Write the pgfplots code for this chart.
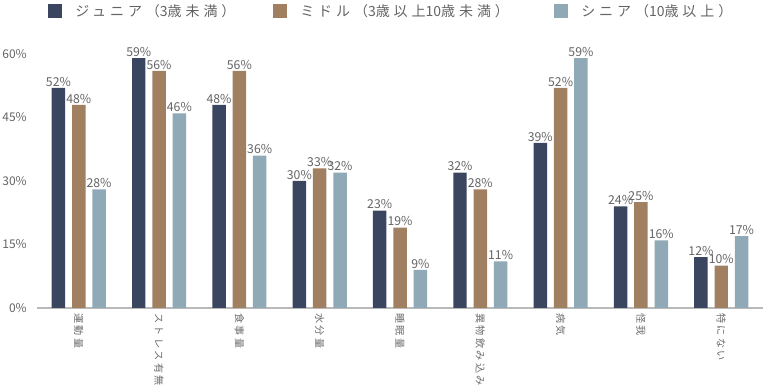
\documentclass[border=0pt]{standalone}
\usepackage{fontspec}
\setmainfont{Noto Sans CJK JP}
\newfontfamily\plainfont{Noto Sans CJK JP}
\newfontfamily\legfont[LetterSpace=28]{Noto Sans CJK JP}
\newfontfamily\catfont[LetterSpace=22]{Noto Sans CJK JP}
\newcommand{\n}[1]{{\plainfont #1}}
\usepackage{pgfplots}
\usepackage{pgfplotstable}
\pgfplotsset{compat=1.18}
\definecolor{cjun}{RGB}{58,70,96}
\definecolor{cmid}{RGB}{160,128,96}
\definecolor{csen}{RGB}{143,169,182}
\definecolor{txt}{RGB}{100,100,100}
\pgfplotstableread{
x jun mid sen
0 52 48 28
1 59 56 46
2 48 56 36
3 30 33 32
4 23 19 9
5 32 28 11
6 39 52 59
7 24 25 16
8 12 10 17
}\datatable
\begin{document}
\begin{tikzpicture}
\begin{axis}[
  scale only axis, width=544.5pt, height=190.5pt,
  xmin=-0.52, xmax=8.52, ymin=0, ymax=60,
  ybar,
  axis x line*=bottom, axis y line*=left,
  y axis line style={draw=none},
  x axis line style={draw=gray!55, line width=0.8pt, -},
  ytick={0,15,30,45,60},
  yticklabel={\pgfmathprintnumber{\tick}\%},
  xtick={0,...,8},
  xticklabels={運動量,ストレス有無,食事量,水分量,睡眠量,異物飲み込み,病気,怪我,特にない},
  major tick length=0pt,
  x tick label style={font=\catfont\fontsize{7.6pt}{8pt}\selectfont, rotate=-90, anchor=west, text=txt!95, inner sep=0pt, xshift=-1.5pt},
  xticklabel shift=5.5pt,
  y tick label style={font=\fontsize{9pt}{10pt}\selectfont, text=txt, inner sep=0pt},
  yticklabel shift=7.5pt,
  /pgf/number format/assume math mode=true,
  bar width=0.168,
  nodes near coords={\pgfmathprintnumber{\pgfplotspointmeta}\%},
  nodes near coords style={font=\fontsize{9.2pt}{10pt}\selectfont, text=txt, inner sep=1pt, anchor=south},
  legend columns=3,
  legend style={at={(0.01515,1.169)}, anchor=west, draw=none, fill=none, inner sep=0pt,
    font=\legfont\fontsize{10.5pt}{12pt}\selectfont, text=txt,
    nodes={inner sep=0pt},
    /tikz/every odd column/.append style={column sep=9.75pt},
    /tikz/every even column/.append style={column sep=0pt}},
  legend image code/.code={\fill[#1] (0pt,-5.25pt) rectangle (10.5pt,5.25pt);},
]
\addplot[ybar, bar shift=-0.253, fill=cjun, draw=none] table[x=x, y=jun] {\datatable};
\addplot[ybar, bar shift=0, fill=cmid, draw=none] table[x=x, y=mid] {\datatable};
\addplot[ybar, bar shift=0.253, fill=csen, draw=none] table[x=x, y=sen] {\datatable};
\legend{\makebox[148.5pt][l]{ジュニア（\n{3}歳未満）},\makebox[190.5pt][l]{ミドル（\n{3}歳以上\n{10}歳未満）},シニア（\n{10}歳以上）}
\end{axis}
\pgfresetboundingbox
\path (-27.75pt,-62.25pt) rectangle (548.25pt,231pt);
\end{tikzpicture}
\end{document}
